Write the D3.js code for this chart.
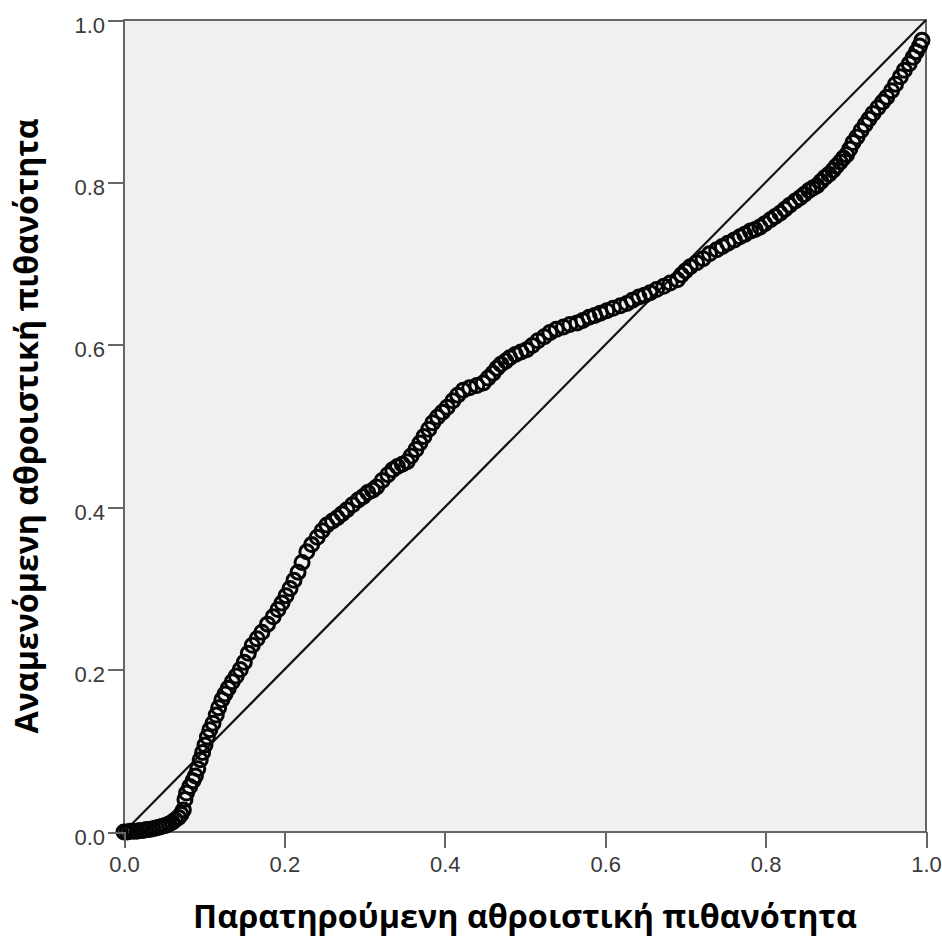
<!DOCTYPE html>
<html>
<head>
    <meta charset="utf-8">
    <title>P-P plot</title>
    <style>
        body { margin: 0; background: #fff; }
        .axis path, .axis line { stroke: #666; stroke-width: 2px; shape-rendering: crispEdges; }
        .axis text { font-family: "Liberation Sans", Arial, sans-serif; font-size: 22px; fill: #3a3a3a; }
        .title { font-family: "Open Sans", "Noto Sans", sans-serif; font-weight: bold; fill: #000; }
    </style>
    <script src="https://d3js.org/d3.v7.min.js"></script>
</head>
<body>
<script>
    // observed cumulative probability
    var observed = [
        0.000, 0.004, 0.008, 0.012, 0.016, 0.020, 0.024, 0.028, 0.032, 0.036,
        0.040, 0.044, 0.048, 0.052, 0.056, 0.060, 0.064, 0.068, 0.071, 0.074,
        0.076, 0.078, 0.082, 0.086, 0.089, 0.092, 0.095, 0.098, 0.101, 0.104,
        0.107, 0.111, 0.115, 0.118, 0.122, 0.126, 0.130, 0.135, 0.140, 0.145,
        0.150, 0.155, 0.160, 0.166, 0.172, 0.179, 0.186, 0.192, 0.197, 0.202,
        0.207, 0.212, 0.217, 0.222, 0.228, 0.234, 0.241, 0.247, 0.253, 0.260,
        0.266, 0.272, 0.278, 0.285, 0.292, 0.298, 0.304, 0.310, 0.315, 0.322,
        0.329, 0.335, 0.341, 0.347, 0.353, 0.358, 0.364, 0.369, 0.374, 0.380,
        0.385, 0.391, 0.397, 0.403, 0.410, 0.416, 0.423, 0.431, 0.440, 0.448,
        0.454, 0.460, 0.465, 0.470, 0.476, 0.481, 0.488, 0.495, 0.502, 0.509,
        0.516, 0.524, 0.531, 0.539, 0.548, 0.556, 0.565, 0.572, 0.580, 0.587,
        0.594, 0.602, 0.610, 0.619, 0.627, 0.634, 0.642, 0.649, 0.656, 0.664,
        0.673, 0.681, 0.690, 0.695, 0.700, 0.706, 0.714, 0.722, 0.730, 0.739,
        0.746, 0.753, 0.761, 0.768, 0.774, 0.781, 0.787, 0.793, 0.799, 0.806,
        0.812, 0.818, 0.824, 0.830, 0.837, 0.843, 0.848, 0.854, 0.859, 0.864,
        0.869, 0.874, 0.879, 0.884, 0.888, 0.893, 0.897, 0.901, 0.905, 0.909,
        0.914, 0.919, 0.924, 0.929, 0.934, 0.940, 0.946, 0.951, 0.957, 0.962,
        0.968, 0.973, 0.979, 0.984, 0.988, 0.992, 0.995
    ];
    // expected cumulative probability
    var expected = [
        0.000, 0.000, 0.001, 0.001, 0.001, 0.002, 0.002, 0.003, 0.003, 0.004,
        0.005, 0.006, 0.007, 0.008, 0.010, 0.012, 0.015, 0.018, 0.022, 0.027,
        0.040, 0.048, 0.056, 0.063, 0.069, 0.078, 0.089, 0.098, 0.107, 0.117,
        0.126, 0.134, 0.144, 0.153, 0.163, 0.170, 0.177, 0.185, 0.192, 0.200,
        0.209, 0.220, 0.230, 0.238, 0.246, 0.256, 0.265, 0.274, 0.282, 0.291,
        0.300, 0.310, 0.320, 0.332, 0.345, 0.354, 0.363, 0.371, 0.378, 0.383,
        0.387, 0.392, 0.397, 0.403, 0.409, 0.413, 0.418, 0.421, 0.425, 0.433,
        0.440, 0.446, 0.450, 0.453, 0.456, 0.463, 0.471, 0.479, 0.487, 0.496,
        0.504, 0.511, 0.517, 0.523, 0.531, 0.538, 0.544, 0.547, 0.550, 0.553,
        0.559, 0.565, 0.571, 0.576, 0.580, 0.584, 0.588, 0.591, 0.594, 0.599,
        0.605, 0.610, 0.615, 0.619, 0.622, 0.625, 0.627, 0.630, 0.634, 0.636,
        0.639, 0.642, 0.645, 0.648, 0.651, 0.655, 0.659, 0.661, 0.664, 0.668,
        0.672, 0.676, 0.680, 0.686, 0.691, 0.696, 0.701, 0.706, 0.712, 0.717,
        0.721, 0.725, 0.729, 0.733, 0.736, 0.740, 0.742, 0.745, 0.749, 0.754,
        0.758, 0.762, 0.767, 0.772, 0.777, 0.781, 0.785, 0.790, 0.793, 0.796,
        0.801, 0.806, 0.810, 0.815, 0.820, 0.825, 0.830, 0.834, 0.841, 0.849,
        0.856, 0.864, 0.871, 0.878, 0.885, 0.892, 0.899, 0.905, 0.913, 0.921,
        0.930, 0.938, 0.946, 0.954, 0.961, 0.968, 0.975
    ];
    var tickValues = [0.0, 0.2, 0.4, 0.6, 0.8, 1.0];
    var xTitle = "Παρατηρούμενη αθροιστική πιθανότητα";
    var yTitle = "Αναμενόμενη αθροιστική πιθανότητα";

    var points = observed.map(function(d, i) { return { x: d, y: expected[i] }; });

    var margin = { top: 20, right: 16, bottom: 108, left: 124 };
    var width = 942 - margin.left - margin.right;
    var height = 940 - margin.top - margin.bottom;

    var svg = d3.select("body").append("svg")
        .attr("width", 942)
        .attr("height", 940);

    var g = svg.append("g")
        .attr("transform", "translate(" + margin.left + "," + margin.top + ")");

    var x = d3.scaleLinear().domain([0, 1]).range([0, width]);
    var y = d3.scaleLinear().domain([0, 1]).range([height, 0]);

    g.append("rect")
        .attr("width", width)
        .attr("height", height)
        .attr("fill", "#f0f0f0")
        .attr("stroke", "#666")
        .attr("stroke-width", 2);

    // reference diagonal
    g.append("line")
        .attr("x1", x(0)).attr("y1", y(0))
        .attr("x2", x(1)).attr("y2", y(1))
        .attr("stroke", "#111")
        .attr("stroke-width", 2.2);

    g.selectAll("circle.pt")
        .data(points)
        .enter().append("circle")
        .attr("class", "pt")
        .attr("cx", function(d) { return x(d.x); })
        .attr("cy", function(d) { return y(d.y); })
        .attr("r", 7)
        .attr("fill", "none")
        .attr("stroke", "#050505")
        .attr("stroke-width", 3);

    var xAxis = d3.axisBottom(x).tickValues(tickValues).tickSize(16).tickPadding(8).tickFormat(d3.format(".1f"));
    var yAxis = d3.axisLeft(y).tickValues(tickValues).tickSize(16).tickPadding(3).tickFormat(d3.format(".1f"));

    g.append("g")
        .attr("class", "x axis")
        .attr("transform", "translate(0," + height + ")")
        .call(xAxis);

    g.append("g")
        .attr("class", "y axis")
        .call(yAxis)
        .selectAll("text").attr("dy", "0.55em");

    g.selectAll(".axis .domain").remove();

    // axis titles, stretched to the span seen in the picture
    var xt = svg.append("text")
        .attr("class", "title")
        .attr("x", margin.left + width / 2)
        .attr("y", 928)
        .attr("text-anchor", "middle")
        .style("font-size", "30px")
        .text(xTitle);
    var xw = xt.node().getComputedTextLength();
    xt.style("font-size", (30 * 664 / xw) + "px");

    var yt = svg.append("text")
        .attr("class", "title")
        .attr("transform", "translate(38," + (margin.top + height / 2) + ") rotate(-90)")
        .attr("text-anchor", "middle")
        .style("font-size", "30px")
        .text(yTitle);
    var yw = yt.node().getComputedTextLength();
    yt.style("font-size", (30 * 615 / yw) + "px");
</script>
</body>
</html>
